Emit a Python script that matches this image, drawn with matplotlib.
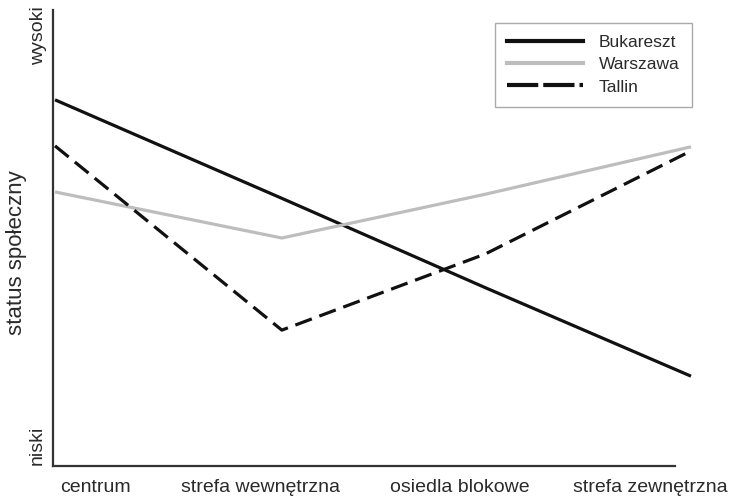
import matplotlib
matplotlib.use("Agg")
import matplotlib.pyplot as plt
from matplotlib.lines import Line2D

plt.rcParams['font.family'] = ['Liberation Sans', 'DejaVu Sans']

# zones (x-axis categories) and their label positions
zones = ["centrum", "strefa wewnętrzna", "osiedla blokowe", "strefa zewnętrzna"]
label_pos = [0.19, 0.97, 1.91, 2.81]
# positions of the curve vertices along the gradient
zone_x = [0.0, 1.07, 2.03, 3.0]

# social status (0 = niski, 1 = wysoki)
bukareszt = [0.803, 0.587, 0.391, 0.197]
warszawa = [0.601, 0.500, 0.596, 0.700]
tallin = [0.702, 0.298, 0.465, 0.691]

fig = plt.figure(figsize=(7.29, 4.98), dpi=100)
ax = fig.add_axes([53/729, 32/498, 647/729, 456/498])

lw = 2.3
ax.plot(zone_x, bukareszt, color="#111111", lw=lw, solid_capstyle="butt")
ax.plot(zone_x, warszawa, color="#bdbdbd", lw=lw, solid_capstyle="butt")
ax.plot(zone_x, tallin, color="#111111", lw=lw, dashes=(5.5, 2.5), dash_capstyle="butt")

ax.set_xlim(-2/212, 3 + 9/212)
ax.set_ylim(0, 1)

for s in ["top", "right"]:
    ax.spines[s].set_visible(False)
for s in ["left", "bottom"]:
    ax.spines[s].set_linewidth(1.6)
    ax.spines[s].set_color("#333333")
ax.spines["bottom"].set_bounds(-2/212, 2.925)

txt = "#2a2a2a"
ax.set_yticks([])
ax.set_xticks(label_pos)
ax.set_xticklabels(zones, fontsize=14, color=txt)
ax.tick_params(axis="x", length=0, pad=9.5)

ax.text(-0.023, 1.009, "wysoki", rotation=90, ha="center", va="top",
        fontsize=14, color=txt, transform=ax.transAxes)
ax.text(-0.025, 0.002, "niski", rotation=90, ha="center", va="bottom",
        fontsize=14, color=txt, transform=ax.transAxes)
ax.text(-0.057, 0.467, "status społeczny", rotation=90, ha="center", va="center",
        fontsize=16, color=txt, transform=ax.transAxes)

handles = [
    Line2D([], [], color="#111111", lw=3),
    Line2D([], [], color="#bdbdbd", lw=3),
    Line2D([], [], color="#111111", lw=3, dashes=(7.5, 1.2), dash_capstyle="butt"),
]
leg = fig.legend(handles, ["Bukareszt", "Warszawa", "Tallin"],
                 loc="upper right", bbox_to_anchor=(692/729, 1 - 23/498),
                 borderaxespad=0, fontsize=12.5, handlelength=4.4,
                 handletextpad=0.9, labelspacing=0.4, borderpad=0.7,
                 fancybox=False, edgecolor="#aaaaaa", framealpha=1)
leg.get_frame().set_linewidth(1.0)
for t in leg.get_texts():
    t.set_color(txt)

fig.savefig("out.png", dpi=100)
